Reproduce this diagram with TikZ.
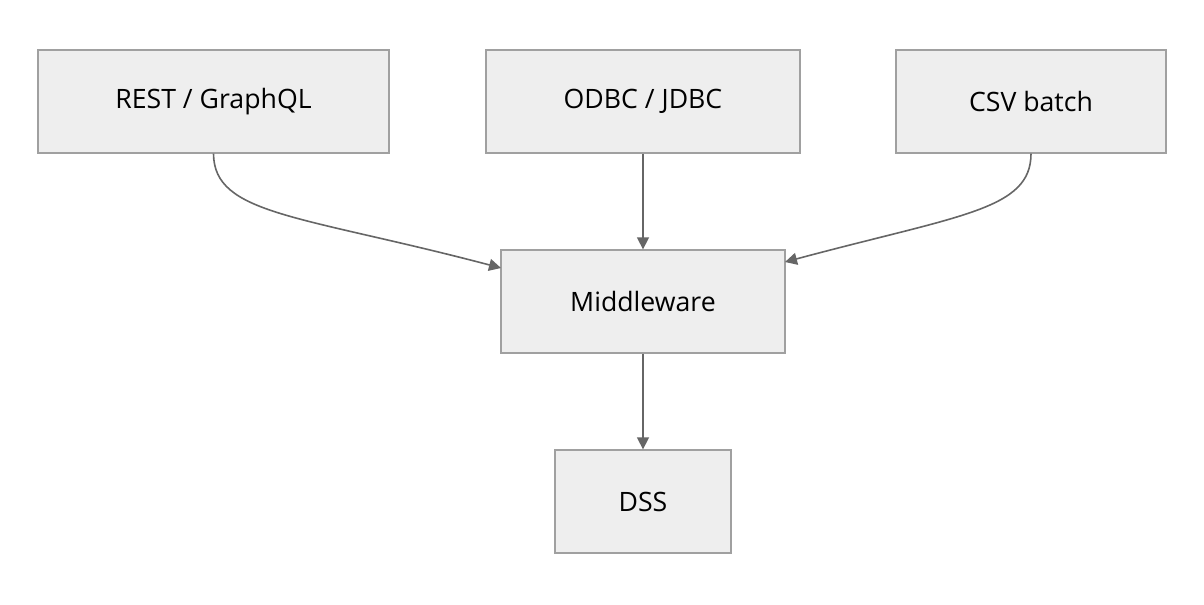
\documentclass[tikz,border=0pt]{standalone}
\usepackage{fontspec}
\setmainfont{Open Sans}
\usetikzlibrary{arrows.meta}
\definecolor{bx}{HTML}{EEEEEE}
\definecolor{bd}{HTML}{A0A0A0}
\definecolor{ar}{HTML}{666666}
\begin{document}
\begin{tikzpicture}[x=0.75pt,y=-0.75pt,
  box/.style={draw=bd,fill=bx,line width=1pt,font=\fontsize{20}{24}\selectfont},
  arr/.style={draw=ar,line width=1.2pt,-{Triangle[length=9pt,width=9pt]}}]
\useasboundingbox (0,0) rectangle (1204,604);
\node[box,minimum width=351*0.75pt,minimum height=103*0.75pt] (rest) at (213.5,101.5) {REST / GraphQL};
\node[box,minimum width=314*0.75pt,minimum height=103*0.75pt] (odbc) at (643,101.5) {ODBC / JDBC};
\node[box,minimum width=270*0.75pt,minimum height=103*0.75pt] (csv) at (1031,101.5) {CSV batch};
\node[box,minimum width=284*0.75pt,minimum height=103*0.75pt] (mid) at (643,301.5) {Middleware};
\node[box,minimum width=176*0.75pt,minimum height=103*0.75pt] (dss) at (643,501.5) {DSS};
\coordinate (mL) at (501,268);
\coordinate (mR) at (785,262);
\draw[arr] (rest.south) .. controls (214,215) and (300,215) .. (mL);
\draw[arr] (odbc.south) -- (mid.north);
\draw[arr] (csv.south) .. controls (1031,210) and (960,215) .. (mR);
\draw[arr] (mid.south) -- (dss.north);
\end{tikzpicture}
\end{document}
